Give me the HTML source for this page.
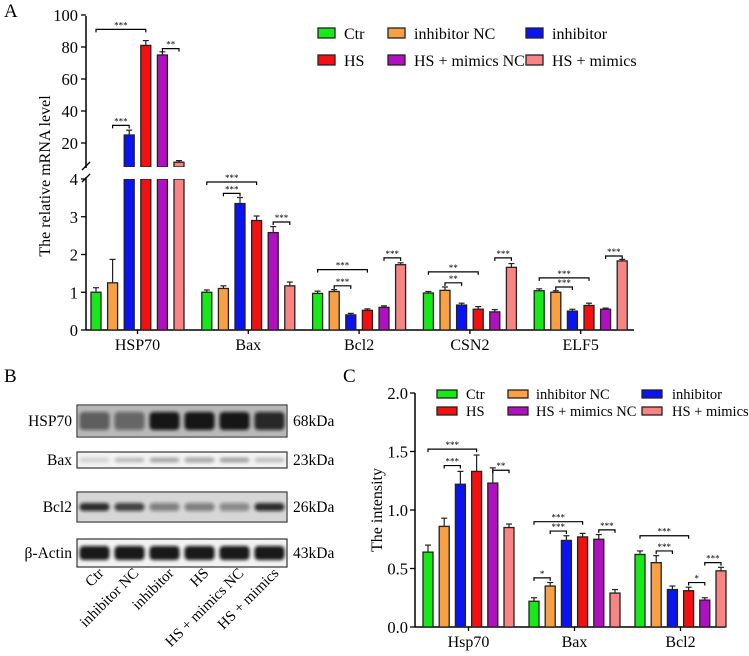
<!DOCTYPE html>
<html><head><meta charset="utf-8"><style>
html,body{margin:0;padding:0;background:#fff;}
svg{display:block;font-family:"Liberation Serif",serif;}
</style></head><body>
<svg id="fig" width="749" height="656" viewBox="0 0 749 656">
<defs><filter id="blur" x="-20%" y="-50%" width="140%" height="200%"><feGaussianBlur stdDeviation="1.6"/></filter></defs>
<text x="4" y="17" font-size="19">A</text>
<text x="4" y="382" font-size="19">B</text>
<text x="343" y="382" font-size="19">C</text>
<text transform="translate(50,176) rotate(-90)" text-anchor="middle" font-size="16">The relative mRNA level</text>
<text transform="translate(382,510) rotate(-90)" text-anchor="middle" font-size="16">The intensity</text>
<g id="ga"></g><g id="gb"></g><g id="gc"></g>
</svg>
<script>
const colors=["#17e817","#f8a043","#0a14f0","#f21010","#b010c0","#f88484"];
const seriesNames=["Ctr","inhibitor NC","inhibitor","HS","HS + mimics NC","HS + mimics"];
// Panel A data
const catsA=["HSP70","Bax","Bcl2","CSN2","ELF5"];
const valsA=[[1.0,1.25,25,81,75,8],[1.0,1.1,3.35,2.9,2.58,1.17],[0.97,1.02,0.4,0.52,0.6,1.73],[0.98,1.05,0.66,0.55,0.48,1.66],[1.04,1.0,0.5,0.65,0.55,1.83]];
const errA=[[0.12,0.62,3,3,2,1],[0.06,0.07,0.16,0.12,0.16,0.1],[0.06,0.05,0.04,0.04,0.04,0.05],[0.04,0.09,0.05,0.07,0.06,0.1],[0.05,0.04,0.05,0.06,0.03,0.04]];
const ticksLowA=[0,1,2,3,4];
const ticksHighA=[20,40,60,80,100];
const bracketsA=[[0,0,3,91,"***"],[0,1,2,31,"***"],[0,4,5,79,"**"],[1,0,3,3.92,"***"],[1,1,2,3.62,"***"],[1,4,5,2.86,"***"],[2,0,3,1.6,"***"],[2,1,2,1.17,"***"],[2,4,5,1.91,"***"],[3,0,3,1.54,"**"],[3,1,2,1.25,"**"],[3,4,5,1.91,"***"],[4,0,3,1.38,"***"],[4,1,2,1.14,"***"],[4,4,5,1.96,"***"]];
// Panel C data
const catsC=["Hsp70","Bax","Bcl2"];
const valsC=[[0.64,0.86,1.22,1.33,1.23,0.85],[0.22,0.35,0.74,0.77,0.75,0.29],[0.62,0.55,0.32,0.31,0.23,0.48]];
const errC=[[0.06,0.07,0.11,0.14,0.13,0.03],[0.03,0.03,0.04,0.03,0.04,0.03],[0.03,0.06,0.03,0.03,0.02,0.03]];
const ticksC=[0,0.5,1.0,1.5,2.0];
const bracketsC=[[0,0,3,1.52,"***"],[0,1,2,1.38,"***"],[0,4,5,1.34,"**"],[1,0,3,0.9,"***"],[1,1,2,0.82,"***"],[1,4,5,0.83,"***"],[1,0,1,0.42,"*"],[2,0,3,0.78,"***"],[2,1,2,0.65,"***"],[2,3,4,0.38,"*"],[2,4,5,0.55,"***"]];
// Panel B data
const blotRows=["HSP70","Bax","Bcl2","β-Actin"];
const blotKda=["68kDa","23kDa","26kDa","43kDa"];
const blotIntensity=[[0.55,0.5,0.95,0.95,0.95,0.85],[0.12,0.22,0.3,0.35,0.32,0.2],[0.85,0.75,0.45,0.45,0.4,0.85],[0.95,0.95,0.95,0.95,0.95,0.95]];

const NS="http://www.w3.org/2000/svg";
function mk(parent,tag,attrs,text){const e=document.createElementNS(NS,tag);for(const k in attrs)e.setAttribute(k,attrs[k]);if(text!==undefined)e.textContent=text;parent.appendChild(e);return e;}

// ---------- Panel A ----------
const ga=document.getElementById('ga');
const aX0=86,aXEnd=634,aGroup0=91,aGroupStep=110.8,aBarStep=16.6,aBarW=10;
const aBase=330,aLowScale=37.75,aHighZero=175,aHighScale=1.6,aBreakLow=179,aBreakHigh=167;
function yA(v){return v<=4?aBase-v*aLowScale:aHighZero-v*aHighScale;}
function xA(g,i){return aGroup0+g*aGroupStep+i*aBarStep;}
let e=mk(ga,'line',{x1:aX0,y1:aBreakLow-2,x2:aX0,y2:aBase,stroke:'#000','stroke-width':1.5});

e=mk(ga,'line',{x1:aX0,y1:16,x2:aX0,y2:aBreakHigh+1,stroke:'#000','stroke-width':1.5});

mk(ga,'line',{x1:aX0-4,y1:aBreakLow+3,x2:aX0+4,y2:aBreakLow-5,stroke:'#000','stroke-width':1.3});
mk(ga,'line',{x1:aX0-4,y1:aBreakHigh+3,x2:aX0+4,y2:aBreakHigh-5,stroke:'#000','stroke-width':1.3});
e=mk(ga,'line',{x1:aX0,y1:aBase,x2:aXEnd,y2:aBase,stroke:'#000','stroke-width':1.5});

ticksLowA.forEach(t=>{const y=yA(t);mk(ga,'line',{x1:aX0-5,y1:y,x2:aX0,y2:y,stroke:'#000','stroke-width':1.3});
 const tx=mk(ga,'text',{x:aX0-8,y:y+6,'text-anchor':'end','font-size':16.5},String(t));
 });
ticksHighA.forEach(t=>{const y=yA(t);mk(ga,'line',{x1:aX0-5,y1:y,x2:aX0,y2:y,stroke:'#000','stroke-width':1.3});
 const tx=mk(ga,'text',{x:aX0-8,y:y+6,'text-anchor':'end','font-size':16.5},String(t));
 });
catsA.forEach((c,g)=>{const cx=(xA(g,0)+xA(g,5)+aBarW)/2;mk(ga,'line',{x1:cx,y1:aBase,x2:cx,y2:aBase+4,stroke:'#000','stroke-width':1.3});
 const tx=mk(ga,'text',{x:cx,y:aBase+20,'text-anchor':'middle','font-size':16},c);
 });
valsA.forEach((row,g)=>row.forEach((v,i)=>{
 const x=xA(g,i);
 const ey=yA(v+errA[g][i]);
 mk(ga,'line',{x1:x+aBarW/2,y1:ey,x2:x+aBarW/2,y2:yA(v),stroke:'#222','stroke-width':1.2});
 mk(ga,'line',{x1:x+2,y1:ey,x2:x+aBarW-2,y2:ey,stroke:'#222','stroke-width':1.2});
 if(v<=4){
  const r=mk(ga,'rect',{x:x,y:yA(v),width:aBarW,height:aBase-yA(v),fill:colors[i],stroke:'#222','stroke-width':1.3});
  
 }else{
  const r=mk(ga,'rect',{x:x,y:yA(v),width:aBarW,height:aBreakHigh-yA(v),fill:colors[i],stroke:'#222','stroke-width':1.3});
  
  const r2=mk(ga,'rect',{x:x,y:aBreakLow,width:aBarW,height:aBase-aBreakLow,fill:colors[i],stroke:'#222','stroke-width':1.3});
  
  mk(ga,'rect',{x:x-1,y:aBreakHigh,width:aBarW+2,height:aBreakLow-aBreakHigh,fill:'#fff'});
 }
}));
bracketsA.forEach(b=>{const[g,i,j,v,l]=b;const x1=xA(g,i)+aBarW/2,x2=xA(g,j)+aBarW/2,y=yA(v);
 mk(ga,'path',{d:`M${x1} ${y+3}V${y}H${x2}V${y+3}`,fill:'none',stroke:'#000','stroke-width':1.2});
 const tx=mk(ga,'text',{x:(x1+x2)/2,y:y-1,'text-anchor':'middle','font-size':9},l);
 });
const legAx=[318,388,526],legAy=[33,60];
seriesNames.forEach((n,k)=>{const c=k%3,r=Math.floor(k/3);
 const sw=mk(ga,'rect',{x:legAx[c],y:legAy[r]-5,width:17,height:10,fill:colors[k],stroke:'#222','stroke-width':1.3});
 
 const tx=mk(ga,'text',{x:legAx[c]+26,y:legAy[r]+6,'font-size':16},n);
 });

// ---------- Panel B ----------
const gb=document.getElementById('gb');
const boxX=77,boxW=210,laneW=35;
const boxY=[405,452,492,539],boxH=[32,16,30,28];
blotRows.forEach((name,r)=>{
 const bx=mk(gb,'rect',{x:boxX,y:boxY[r],width:boxW,height:boxH[r],fill:'#f2f2f2',stroke:'#333','stroke-width':1.2});
 
 if(r===0)mk(gb,'rect',{x:boxX+1,y:boxY[r]+1,width:boxW-2,height:boxH[r]-2,fill:'#b8b8b8'});
 if(r===2)mk(gb,'rect',{x:boxX+1,y:boxY[r]+1,width:boxW-2,height:boxH[r]-2,fill:'#d6d6d6'});
 blotIntensity[r].forEach((a,l)=>{const cx=boxX+laneW*(l+0.5);const cy=boxY[r]+boxH[r]/2;
  const bh=r===0?18:(r===1?5:(r===2?8:14));
  const b=mk(gb,'rect',{x:cx-15,y:cy-bh/2,width:30,height:bh,rx:4,fill:'#111','fill-opacity':a,filter:'url(#blur)'});
  });
 const t1=mk(gb,'text',{x:72,y:boxY[r]+boxH[r]/2+5,'text-anchor':'end','font-size':15.5},name);
 
 const t2=mk(gb,'text',{x:293,y:boxY[r]+boxH[r]/2+5,'font-size':15.5},blotKda[r]);
 
});
seriesNames.forEach((n,l)=>{const cx=boxX+laneW*(l+0.5)+10;
 const t=mk(gb,'text',{transform:`translate(${cx},574) rotate(-45)`,'text-anchor':'end','font-size':15},n);
 });

// ---------- Panel C ----------
const gc=document.getElementById('gc');
const cX0=415,cXEnd=725,cBase=627,cScale=117,cGroup0=423,cGroupStep=106,cBarStep=16.2,cBarW=10;
function yC(v){return cBase-v*cScale;}
function xC(g,i){return cGroup0+g*cGroupStep+i*cBarStep;}
e=mk(gc,'line',{x1:cX0,y1:yC(2),x2:cX0,y2:cBase,stroke:'#000','stroke-width':1.5});

e=mk(gc,'line',{x1:cX0,y1:cBase,x2:cXEnd,y2:cBase,stroke:'#000','stroke-width':1.5});

ticksC.forEach(t=>{const y=yC(t);mk(gc,'line',{x1:cX0-5,y1:y,x2:cX0,y2:y,stroke:'#000','stroke-width':1.3});
 const tx=mk(gc,'text',{x:cX0-7,y:y+6,'text-anchor':'end','font-size':16.5},t.toFixed(1));
 });
catsC.forEach((c,g)=>{const cx=(xC(g,0)+xC(g,5)+cBarW)/2;mk(gc,'line',{x1:cx,y1:cBase,x2:cx,y2:cBase+4,stroke:'#000','stroke-width':1.3});
 const tx=mk(gc,'text',{x:cx,y:cBase+20,'text-anchor':'middle','font-size':16},c);
 });
valsC.forEach((row,g)=>row.forEach((v,i)=>{const x=xC(g,i);const ey=yC(v+errC[g][i]);
 mk(gc,'line',{x1:x+cBarW/2,y1:ey,x2:x+cBarW/2,y2:yC(v),stroke:'#222','stroke-width':1.2});
 mk(gc,'line',{x1:x+2,y1:ey,x2:x+cBarW-2,y2:ey,stroke:'#222','stroke-width':1.2});
 const r=mk(gc,'rect',{x:x,y:yC(v),width:cBarW,height:cBase-yC(v),fill:colors[i],stroke:'#222','stroke-width':1.3});
 }));
bracketsC.forEach(b=>{const[g,i,j,v,l]=b;const x1=xC(g,i)+cBarW/2,x2=xC(g,j)+cBarW/2,y=yC(v);
 mk(gc,'path',{d:`M${x1} ${y+3}V${y}H${x2}V${y+3}`,fill:'none',stroke:'#000','stroke-width':1.2});
 const tx=mk(gc,'text',{x:(x1+x2)/2,y:y-1,'text-anchor':'middle','font-size':9},l);
 });
const legCx=[437,508,642],legCy=[394,411];
seriesNames.forEach((n,k)=>{const c=k%3,r=Math.floor(k/3);
 const sw=mk(gc,'rect',{x:legCx[c],y:legCy[r]-4,width:20,height:8,fill:colors[k],stroke:'#222','stroke-width':1.3});
 
 const tx=mk(gc,'text',{x:legCx[c]+(c===2?30:(c===0?29:28)),y:legCy[r]+5,'font-size':14.5},n);
 });
</script>
</body></html>
